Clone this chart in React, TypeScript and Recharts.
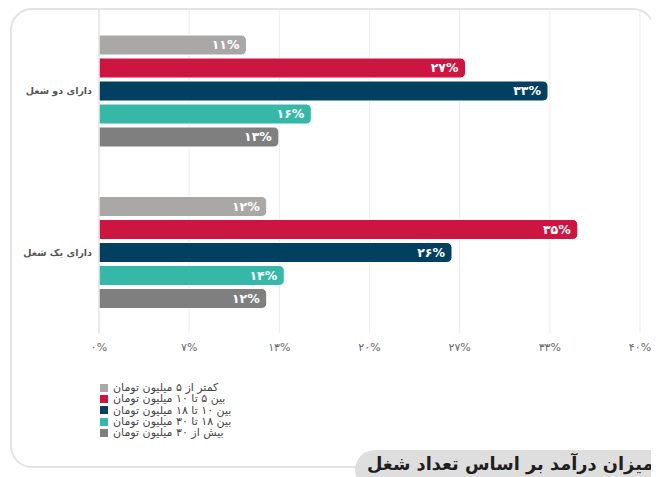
import React from "react";
import { BarChart, Bar, XAxis, YAxis, CartesianGrid, LabelList } from "recharts";

const categories = ["دارای دو شغل", "دارای یک شغل"];
const seriesNames = [
  "کمتر از ۵ میلیون تومان",
  "بین ۵ تا ۱۰ میلیون تومان",
  "بین ۱۰ تا ۱۸ میلیون تومان",
  "بین ۱۸ تا ۳۰ میلیون تومان",
  "بیش از ۳۰ میلیون تومان",
];
const below5 = [10.9, 12.4];
const from5to10 = [27.1, 35.4];
const from10to18 = [33.2, 26.1];
const from18to30 = [15.7, 13.7];
const above30 = [13.3, 12.4];
const xTicks = [0, 40 / 6, 80 / 6, 20, 160 / 6, 200 / 6, 40];
const colors = ["#a9a8a6", "#cd1541", "#024062", "#35b8a8", "#7f7f7f"];
const title = "میزان درآمد بر اساس تعداد شغل";

const seriesValues = [below5, from5to10, from10to18, from18to30, above30];
const keys = ["s0", "s1", "s2", "s3", "s4"];

const data = categories.map((c, i) => {
  const row: any = { name: c };
  keys.forEach((k, j) => {
    row[k] = seriesValues[j][i];
  });
  return row;
});

const toFa = (n: number) =>
  String(n).replace(/\d/g, (d) => "۰۱۲۳۴۵۶۷۸۹"[Number(d)]);
const pct = (v: any) => toFa(Math.round(Number(v))) + "%";

const FONT = "'DejaVu Sans', sans-serif";

const YTick = (props: any) => {
  const { x, y, payload } = props;
  return (
    <text
      x={x}
      y={y}
      dy={3.5}
      textAnchor="end"
      fill="#555"
      fontSize={9.5}
      fontWeight="bold"
      fontFamily={FONT}
    >
      {payload.value}
    </text>
  );
};

export default function App() {
  return (
    <div
      style={{
        position: "relative",
        width: 651,
        height: 469,
        overflow: "hidden",
        fontFamily: FONT,
      }}
    >
      <div
        style={{
          position: "absolute",
          left: 2,
          top: 0,
          width: 645,
          height: 460,
          border: "2px solid #e3e3e3",
          borderRadius: 22,
          boxSizing: "border-box",
        }}
      />
      <div style={{ position: "absolute", left: 0, top: 0 }}>
        <BarChart
          width={651}
          height={355}
          data={data}
          layout="vertical"
          margin={{ top: 2, right: 19, bottom: 0, left: 0 }}
          barCategoryGap="15%"
          barGap={3}
        >
          <CartesianGrid horizontal={false} vertical stroke="#eeeeee" strokeWidth={1.2} />
          <XAxis
            type="number"
            domain={[0, 40]}
            ticks={xTicks}
            tickFormatter={pct}
            axisLine={false}
            tickLine={false}
            tickSize={0}
            tickMargin={10}
            height={30}
            interval={0}
            tick={{ fill: "#666", fontSize: 11, fontFamily: FONT }}
          />
          <YAxis
            type="category"
            dataKey="name"
            width={91}
            axisLine={{ stroke: "#e2e2e2", strokeWidth: 1.2 }}
            tickLine={false}
            tickSize={0}
            tickMargin={7}
            tick={<YTick />}
          />
          {keys.map((k, j) => (
            <Bar
              key={k}
              dataKey={k}
              name={seriesNames[j]}
              fill={colors[j]}
              stroke="#ffffff"
              strokeWidth={1}
              barSize={20}
              radius={[0, 5, 5, 0]}
              isAnimationActive={false}
            >
              <LabelList
                dataKey={k}
                position="insideRight"
                offset={7}
                formatter={pct}
                style={{ fill: "#fff", fontSize: 12.5, fontWeight: "bold", fontFamily: FONT }}
              />
            </Bar>
          ))}
        </BarChart>
      </div>
      <div style={{ position: "absolute", left: 92, top: 374 }}>
        {seriesNames.map((n, j) => (
          <div
            key={n}
            style={{ display: "flex", alignItems: "center", height: 11.3 }}
          >
            <span
              style={{
                display: "inline-block",
                width: 8,
                height: 8,
                background: colors[j],
                marginRight: 5,
              }}
            />
            <span
              dir="rtl"
              style={{ fontSize: 11, color: "#444", lineHeight: "11px", whiteSpace: "nowrap" }}
            >
              {n}
            </span>
          </div>
        ))}
      </div>
      <div
        style={{
          position: "absolute",
          left: 347,
          top: 442,
          width: 340,
          height: 40,
          background: "#dedede",
          borderRadius: 20,
        }}
      >
        <div
          dir="rtl"
          style={{
            position: "absolute",
            left: 12,
            top: 3,
            fontSize: 17.8,
            fontWeight: "bold",
            color: "#1e1e1e",
            whiteSpace: "nowrap",
          }}
        >
          {title}
        </div>
      </div>
    </div>
  );
}
